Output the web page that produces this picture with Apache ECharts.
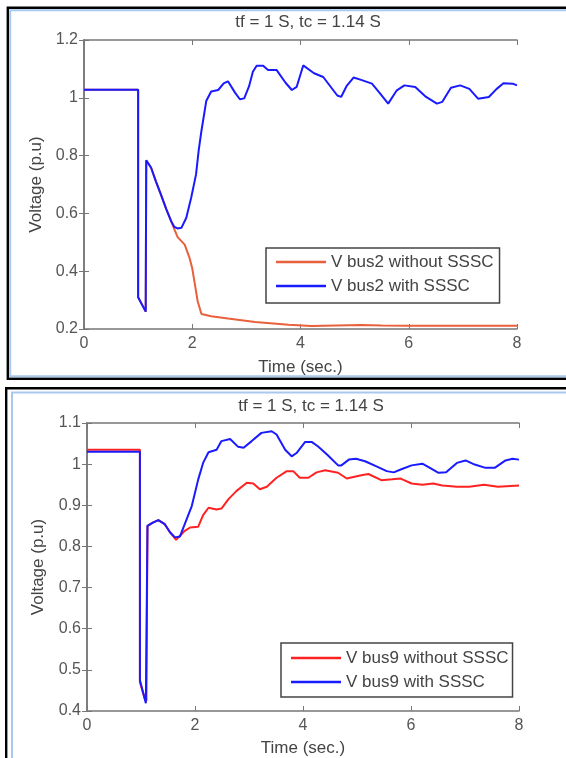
<!DOCTYPE html>
<html>
<head>
<meta charset="utf-8">
<script src="https://cdn.jsdelivr.net/npm/echarts@6/dist/echarts.min.js"></script>
<style>
  html, body { margin: 0; padding: 0; background: #fff; }
  #chart { width: 566px; height: 758px; }
</style>
</head>
<body>
<div id="chart"></div>
<script>
// titles / labels
var panelTitle = "tf = 1 S, tc = 1.14 S";
var xName = "Time (sec.)";
var yName = "Voltage (p.u)";
var legendTop = ["V bus2 without SSSC", "V bus2 with SSSC"];
var legendBottom = ["V bus9 without SSSC", "V bus9 with SSSC"];

// bus 2 without SSSC
var tBus2Without = [0, 1.0, 1.0, 1.14, 1.15, 1.24, 1.33, 1.42, 1.52, 1.61, 1.67, 1.73, 1.86, 1.95, 2.0, 2.04, 2.1, 2.17, 2.35, 2.66, 3.16, 3.78, 4.2, 5.12, 5.5, 6, 8];
var vBus2Without = [1.028, 1.028, 0.31, 0.26, 0.784, 0.758, 0.71, 0.666, 0.615, 0.573, 0.545, 0.518, 0.492, 0.446, 0.41, 0.365, 0.296, 0.252, 0.244, 0.236, 0.224, 0.215, 0.21, 0.214, 0.212, 0.211, 0.211];

// bus 2 with SSSC
var tBus2With = [0, 1.0, 1.0, 1.14, 1.15, 1.24, 1.33, 1.42, 1.52, 1.61, 1.67, 1.73, 1.8, 1.89, 1.98, 2.07, 2.12, 2.17, 2.26, 2.35, 2.48, 2.58, 2.66, 2.79, 2.88, 2.96, 3.05, 3.12, 3.19, 3.31, 3.4, 3.56, 3.72, 3.84, 3.93, 4.05, 4.25, 4.42, 4.55, 4.68, 4.75, 4.85, 4.98, 5.12, 5.32, 5.45, 5.62, 5.78, 5.92, 6.12, 6.32, 6.52, 6.62, 6.78, 6.95, 7.12, 7.28, 7.48, 7.62, 7.75, 7.92, 8];
var vBus2With = [1.028, 1.028, 0.31, 0.26, 0.784, 0.758, 0.71, 0.666, 0.615, 0.573, 0.553, 0.548, 0.55, 0.585, 0.654, 0.735, 0.82, 0.886, 0.99, 1.022, 1.027, 1.05, 1.057, 1.018, 0.995, 0.998, 1.04, 1.09, 1.111, 1.111, 1.096, 1.096, 1.053, 1.027, 1.038, 1.112, 1.085, 1.072, 1.04, 1.008, 1.003, 1.04, 1.07, 1.062, 1.049, 1.02, 0.98, 1.026, 1.043, 1.037, 1.003, 0.98, 0.986, 1.035, 1.043, 1.031, 0.997, 1.003, 1.03, 1.05, 1.049, 1.043];

// bus 9 without SSSC
var tBus9Without = [0, 0.98, 0.98, 1.07, 1.1, 1.12, 1.22, 1.32, 1.44, 1.54, 1.65, 1.81, 1.91, 2.06, 2.15, 2.25, 2.4, 2.49, 2.62, 2.77, 2.96, 3.08, 3.2, 3.33, 3.51, 3.7, 3.82, 3.94, 4.1, 4.25, 4.41, 4.65, 4.81, 5.08, 5.21, 5.45, 5.65, 5.81, 6.01, 6.21, 6.41, 6.58, 6.85, 7.08, 7.35, 7.61, 8];
var vBus9Without = [1.035, 1.035, 0.47, 0.43, 0.425, 0.85, 0.858, 0.864, 0.854, 0.834, 0.816, 0.838, 0.846, 0.848, 0.876, 0.894, 0.89, 0.892, 0.915, 0.935, 0.955, 0.953, 0.939, 0.945, 0.967, 0.983, 0.983, 0.967, 0.967, 0.98, 0.985, 0.979, 0.965, 0.973, 0.976, 0.961, 0.963, 0.965, 0.953, 0.95, 0.953, 0.948, 0.945, 0.945, 0.95, 0.945, 0.948];

// bus 9 with SSSC
var tBus9With = [0, 0.98, 0.98, 1.09, 1.12, 1.22, 1.32, 1.44, 1.54, 1.63, 1.72, 1.81, 1.94, 2.06, 2.15, 2.25, 2.4, 2.49, 2.65, 2.8, 2.9, 3.05, 3.23, 3.42, 3.51, 3.67, 3.79, 3.88, 4.04, 4.16, 4.28, 4.45, 4.65, 4.71, 4.85, 4.98, 5.15, 5.35, 5.55, 5.68, 5.81, 6.01, 6.21, 6.35, 6.51, 6.65, 6.85, 7.01, 7.18, 7.38, 7.55, 7.75, 7.88, 8];
var vBus9With = [1.03, 1.03, 0.475, 0.419, 0.85, 0.858, 0.864, 0.854, 0.834, 0.822, 0.824, 0.854, 0.898, 0.963, 1.003, 1.029, 1.035, 1.056, 1.061, 1.042, 1.04, 1.056, 1.076, 1.08, 1.072, 1.035, 1.019, 1.027, 1.054, 1.054, 1.043, 1.023, 0.997, 0.997, 1.011, 1.013, 1.007, 0.995, 0.983, 0.98, 0.987, 0.997, 1.001, 0.991, 0.979, 0.98, 1.003, 1.009, 0.999, 0.991, 0.991, 1.009, 1.013, 1.011];

var font = "Liberation Sans, Arial, sans-serif";

function pairs(t, v) {
  return t.map(function (x, i) { return [x, v[i]]; });
}

function xAxisFor(grid, gap) {
  return [
    {
      gridIndex: grid, type: "value", min: 0, max: 8, interval: 2, position: "bottom",
      name: xName, nameLocation: "middle", nameGap: gap,
      nameTextStyle: { fontSize: 17, color: "#444", fontFamily: font },
      axisLine: { lineStyle: { color: "#777", width: 1.5 } },
      axisTick: { inside: true, length: 5, lineStyle: { color: "#777" } },
      axisLabel: { fontSize: 16, color: "#555", margin: 7, fontFamily: font },
      splitLine: { show: false }
    },
    {
      gridIndex: grid, type: "value", min: 0, max: 8, interval: 2, position: "top",
      axisLine: { lineStyle: { color: "#777", width: 1.5 } },
      axisTick: { inside: true, length: 5, lineStyle: { color: "#777" } },
      axisLabel: { show: false },
      splitLine: { show: false }
    }
  ];
}

function yAxisFor(grid, min, max, step, gap) {
  return [
    {
      gridIndex: grid, type: "value", min: min, max: max, interval: step, position: "left",
      name: yName, nameLocation: "middle", nameGap: gap,
      nameTextStyle: { fontSize: 17, color: "#444", fontFamily: font },
      axisLine: { show: true, lineStyle: { color: "#777", width: 1.5 } },
      axisTick: { show: true, inside: true, length: 5, lineStyle: { color: "#777" } },
      axisLabel: { fontSize: 16, color: "#555", margin: 6, fontFamily: font },
      splitLine: { show: false }
    },
    {
      gridIndex: grid, type: "value", min: min, max: max, interval: step, position: "right",
      axisLine: { show: true, lineStyle: { color: "#777", width: 1.5 } },
      axisTick: { show: true, inside: true, length: 5, lineStyle: { color: "#777" } },
      axisLabel: { show: false },
      splitLine: { show: false }
    }
  ];
}

function lineSeries(name, xi, yi, data, color) {
  return {
    name: name, type: "line", xAxisIndex: xi, yAxisIndex: yi,
    data: data, symbol: "none", smooth: false, animation: false,
    lineStyle: { color: color, width: 2 }, itemStyle: { color: color }
  };
}

var chart = echarts.init(document.getElementById("chart"));
var option = {
  backgroundColor: "#fff",
  animation: false,
  title: [
    { text: panelTitle, left: 303, top: 9, textAlign: "center",
      textStyle: { fontSize: 17, fontWeight: "normal", color: "#444", fontFamily: font } },
    { text: panelTitle, left: 306, top: 393, textAlign: "center",
      textStyle: { fontSize: 17, fontWeight: "normal", color: "#444", fontFamily: font } }
  ],
  grid: [
    { left: 84, top: 40, width: 433, height: 289 },
    { left: 87, top: 423, width: 432, height: 290 }
  ],
  legend: [
    {
      data: legendTop, orient: "vertical", left: 266, top: 248, icon: "rect",
      padding: [5, 6, 8, 10], itemGap: 6, itemWidth: 50, itemHeight: 2.5,
      borderColor: "#444", borderWidth: 1.5, backgroundColor: "#fff",
      textStyle: { fontSize: 17, color: "#444", fontFamily: font, lineHeight: 18 }
    },
    {
      data: legendBottom, orient: "vertical", left: 281, top: 643, icon: "rect",
      padding: [6, 4, 6, 10], itemGap: 6, itemWidth: 50, itemHeight: 2.5,
      borderColor: "#444", borderWidth: 1.5, backgroundColor: "#fff",
      textStyle: { fontSize: 17, color: "#444", fontFamily: font, lineHeight: 18 }
    }
  ],
  xAxis: xAxisFor(0, 30).concat(xAxisFor(1, 29)),
  yAxis: yAxisFor(0, 0.2, 1.2, 0.2, 39).concat(yAxisFor(1, 0.4, 1.1, 0.1, 40)),
  series: [
    lineSeries(legendTop[0], 0, 0, pairs(tBus2Without, vBus2Without), "#e8603c"),
    lineSeries(legendTop[1], 0, 0, pairs(tBus2With, vBus2With), "#1a1aff"),
    lineSeries(legendBottom[0], 2, 2, pairs(tBus9Without, vBus9Without), "#ff2222"),
    lineSeries(legendBottom[1], 2, 2, pairs(tBus9With, vBus9With), "#1a1aff")
  ],
  graphic: [
    // top panel frame
    { type: "rect", shape: { x: 7.8, y: 7.8, width: 620, height: 370.9 },
      style: { fill: "none", stroke: "#000", lineWidth: 2.4 } },
    { type: "rect", shape: { x: 10.2, y: 10.2, width: 620, height: 366 },
      style: { fill: "none", stroke: "#a9c8ee", lineWidth: 2 } },
    // bottom panel frame
    { type: "rect", shape: { x: 6.2, y: 388.3, width: 620, height: 420 },
      style: { fill: "none", stroke: "#000", lineWidth: 2.4 } },
    { type: "rect", shape: { x: 12, y: 392.6, width: 620, height: 420 },
      style: { fill: "none", stroke: "#a9c8ee", lineWidth: 2 } }
  ]
};
chart.setOption(option);
</script>
</body>
</html>
